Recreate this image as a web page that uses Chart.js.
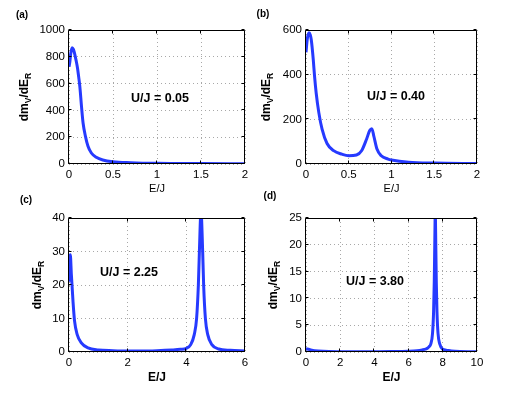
<!DOCTYPE html>
<html>
<head>
<meta charset="utf-8">
<script src="https://cdn.jsdelivr.net/npm/chart.js@4.4.1/dist/chart.umd.min.js"></script>
<style>
  html, body { margin: 0; padding: 0; background: #fff; }
  #wrap { position: relative; width: 526px; height: 396px; overflow: hidden; }
  #wrap canvas { position: absolute; left: 0; top: 0; }
</style>
</head>
<body>
<div id="wrap">
  <canvas id="pa" width="526" height="396"></canvas>
  <canvas id="pb" width="526" height="396"></canvas>
  <canvas id="pc" width="526" height="396"></canvas>
  <canvas id="pd" width="526" height="396"></canvas>
</div>
<script>
// (a) U/J = 0.05
const eA = [0, 0.01, 0.02, 0.035, 0.05, 0.067, 0.08, 0.097, 0.11, 0.123, 0.142, 0.16, 0.187, 0.216, 0.254, 0.31, 0.384, 0.5, 0.7, 1.0, 1.5, 2.0];
const vA = [725, 765, 825, 868, 855, 815, 775, 715, 650, 579, 430, 306, 206, 132, 82, 50, 30, 17, 10, 5, 3, 2];
// (b) U/J = 0.40
const eB = [0, 0.015, 0.035, 0.05, 0.062, 0.085, 0.1, 0.119, 0.15, 0.188, 0.246, 0.323, 0.42, 0.5, 0.59, 0.65, 0.708, 0.745, 0.77, 0.795, 0.83, 0.88, 0.96, 1.0, 1.2, 1.5, 2.0];
const vB = [500, 560, 588, 578, 555, 467, 393, 318, 230, 156, 92, 60, 44, 37, 40, 59, 111, 150, 158, 122, 67, 37, 22, 18, 8, 4, 2];
// (c) U/J = 2.25
const eC = [0, 0.02, 0.045, 0.08, 0.136, 0.19, 0.28, 0.42, 0.65, 1.0, 1.5, 2, 2.5, 3, 3.5, 3.8, 4.0, 4.15, 4.27, 4.35, 4.41, 4.445, 4.5, 4.557, 4.59, 4.65, 4.73, 4.87, 5.1, 5.5, 6];
const vC = [21, 27.5, 29, 23.2, 15.2, 9.2, 5.2, 2.7, 1.2, 0.6, 0.4, 0.3, 0.3, 0.4, 0.6, 0.8, 1.1, 2.2, 5.2, 10, 20, 30, 42, 30, 20, 10, 5.2, 2.2, 0.9, 0.5, 0.3];
// (d) U/J = 3.80
const eD = [0, 0.2, 0.5, 1, 2, 3, 4, 5, 6, 6.5, 6.8, 7.0, 7.1, 7.2, 7.3, 7.4, 7.46, 7.5, 7.53, 7.56, 7.59, 7.62, 7.66, 7.72, 7.82, 8.0, 8.2, 8.5, 9, 10];
const vD = [0.6, 0.45, 0.25, 0.12, 0.06, 0.05, 0.06, 0.08, 0.15, 0.25, 0.4, 0.55, 0.7, 1.0, 1.5, 3.5, 7.4, 13, 20, 26, 20, 13, 7.4, 3.5, 1.5, 0.5, 0.35, 0.2, 0.1, 0.05];

// tick labels
const xTicksAB = [0, 0.5, 1, 1.5, 2];
const xTicksC = [0, 2, 4, 6];
const xTicksD = [0, 2, 4, 6, 8, 10];
const yTicksA = [0, 200, 400, 600, 800, 1000];
const yTicksB = [0, 200, 400, 600];
const yTicksC = [0, 10, 20, 30, 40];
const yTicksD = [0, 5, 10, 15, 20, 25];

const FF = '"Liberation Sans", Arial, Helvetica, sans-serif';
const blue = 'rgb(38,58,255)';

function drawYLabel(ctx, x, yc) {
    const big = 'bold 12px ' + FF, small = 'bold 8.5px ' + FF;
    const parts = [['dm', big, 0], ['V', small, 3], ['/dE', big, 0], ['R', small, 3]];
    ctx.save();
    ctx.translate(x, yc);
    ctx.rotate(-Math.PI / 2);
    let w = 0;
    parts.forEach(p => { ctx.font = p[1]; w += ctx.measureText(p[0]).width; });
    let cx = -w / 2;
    ctx.textAlign = 'left';
    ctx.textBaseline = 'alphabetic';
    ctx.fillStyle = '#000';
    parts.forEach(p => {
        ctx.font = p[1];
        ctx.fillText(p[0], cx, p[2]);
        cx += ctx.measureText(p[0]).width;
    });
    ctx.restore();
}

const panelDeco = {
    id: 'panelDeco',
    afterDraw(chart, args, o) {
        const ctx = chart.ctx, a = chart.chartArea, sx = chart.scales.x, sy = chart.scales.y;
        const L = Math.round(a.left) - 0.5, R = Math.round(a.right) - 0.5;
        const T = Math.round(a.top) + 0.5, B = Math.round(a.bottom) - 0.5;
        ctx.save();
        ctx.strokeStyle = '#000';
        ctx.lineWidth = 1;
        ctx.beginPath();
        // inward ticks
        sx.ticks.forEach(t => {
            const px = Math.round(sx.getPixelForValue(t.value)) - 0.5;
            ctx.moveTo(px, B); ctx.lineTo(px, B - 3);
            ctx.moveTo(px, T); ctx.lineTo(px, T + 3);
        });
        sy.ticks.forEach(t => {
            const py = Math.round(sy.getPixelForValue(t.value)) - 0.5;
            ctx.moveTo(L, py); ctx.lineTo(L + 3, py);
            ctx.moveTo(R, py); ctx.lineTo(R - 3, py);
        });
        ctx.rect(L, T, R - L, B - T);
        ctx.stroke();

        ctx.fillStyle = '#000';
        ctx.textAlign = 'center';
        ctx.textBaseline = 'middle';
        ctx.font = 'bold 10px ' + FF;
        ctx.fillText(o.tag, o.tagX, o.tagY);
        ctx.font = 'bold 12.5px ' + FF;
        ctx.fillText(o.note, o.noteX, o.noteY);
        ctx.font = (o.xBold ? 'bold 12px ' : '11px ') + FF;
        ctx.fillText('E/J', (a.left + a.right) / 2, o.xlabY);
        ctx.restore();
        drawYLabel(ctx, o.ylabX, (a.top + a.bottom) / 2);
    }
};

function makePanel(id, e, v, xt, yt, box, deco) {
    const tickFont = { family: FF, size: 11.5 };
    return new Chart(document.getElementById(id), {
        type: 'scatter',
        data: {
            datasets: [{
                data: e.map((x, i) => ({ x: x, y: v[i] })),
                showLine: true,
                borderColor: blue,
                borderWidth: 3,
                pointRadius: 0,
                cubicInterpolationMode: 'monotone',
                clip: 0
            }]
        },
        options: {
            responsive: false,
            animation: false,
            events: [],
            layout: {
                padding: { left: box[0] - 40, top: box[1], right: 526 - box[2], bottom: 396 - box[3] - 20 }
            },
            plugins: {
                legend: { display: false },
                tooltip: { enabled: false },
                panelDeco: deco
            },
            scales: {
                x: {
                    type: 'linear',
                    min: xt[0],
                    max: xt[xt.length - 1],
                    afterFit: s => { s.height = 20; },
                    afterBuildTicks: s => { s.ticks = xt.map(t => ({ value: t })); },
                    grid: { color: '#a8a8a8', drawTicks: false },
                    border: { display: false, dash: [1, 3] },
                    ticks: { padding: 4, color: '#000', font: tickFont, maxRotation: 0, autoSkip: false, callback: t => String(t) }
                },
                y: {
                    min: yt[0],
                    max: yt[yt.length - 1],
                    afterFit: s => { s.width = 40; },
                    afterBuildTicks: s => { s.ticks = yt.map(t => ({ value: t })); },
                    grid: { color: '#a8a8a8', drawTicks: false },
                    border: { display: false, dash: [1, 3] },
                    ticks: { padding: 4, color: '#000', font: tickFont, autoSkip: false, callback: t => String(t) }
                }
            }
        },
        plugins: [panelDeco]
    });
}

makePanel('pa', eA, vA, xTicksAB, yTicksA, [69, 30, 245, 164],
    { tag: '(a)', tagX: 22, tagY: 15, note: 'U/J = 0.05', noteX: 160, noteY: 99, xBold: false, xlabY: 189, ylabX: 28 });
makePanel('pb', eB, vB, xTicksAB, yTicksB, [306, 30, 477, 164],
    { tag: '(b)', tagX: 263, tagY: 14, note: 'U/J = 0.40', noteX: 396, noteY: 97, xBold: false, xlabY: 189, ylabX: 270 });
makePanel('pc', eC, vC, xTicksC, yTicksC, [69, 218, 245, 352],
    { tag: '(c)', tagX: 26, tagY: 200, note: 'U/J = 2.25', noteX: 129, noteY: 273, xBold: true, xlabY: 378, ylabX: 41 });
makePanel('pd', eD, vD, xTicksD, yTicksD, [306, 218, 477, 352],
    { tag: '(d)', tagX: 270, tagY: 196, note: 'U/J = 3.80', noteX: 375, noteY: 282, xBold: true, xlabY: 378, ylabX: 277 });
</script>
</body>
</html>
